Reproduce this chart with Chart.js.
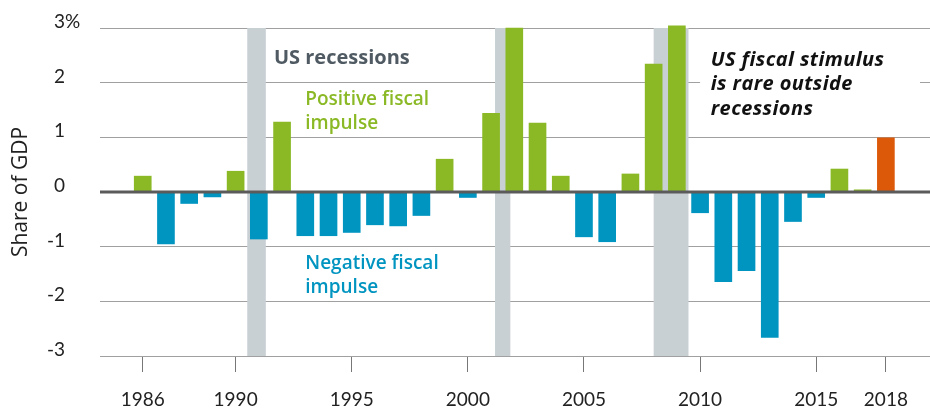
<!DOCTYPE html>
<html><head><meta charset="utf-8">
<script src="https://cdn.jsdelivr.net/npm/chart.js@4"></script>
<style>html,body{margin:0;padding:0;background:#fff}#wrap{width:930px;height:409px;position:relative}</style>
</head><body><div id="wrap"><canvas id="c"></canvas></div>
<script>
// ---- data ----
const years = [1986,1987,1988,1989,1990,1991,1992,1993,1994,1995,1996,1997,1998,1999,2000,2001,2002,2003,2004,2005,2006,2007,2008,2009,2010,2011,2012,2013,2014,2015,2016,2017,2018];
const fiscalImpulse = [0.29,-0.95,-0.21,-0.09,0.38,-0.86,1.28,-0.80,-0.80,-0.74,-0.60,-0.62,-0.43,0.60,-0.10,1.44,3.00,1.26,0.29,-0.82,-0.91,0.33,2.34,3.04,-0.38,-1.64,-1.44,-2.66,-0.54,-0.10,0.42,0.04,0.99];
const recessionStart = [1990.5, 2001.17, 2008.0];
const recessionEnd   = [1991.3, 2001.83, 2009.5];
const xTickValues = [1986,1990,1995,2000,2005,2010,2015,2018];
const yTickValues = [-3,-2,-1,0,1,2,3];
const highlightYear = 2018;

const GREEN = '#8ab925', BLUE = '#0094c0', ORANGE = '#dc5909';
const FONT = 'Lato';
const LABEL_FONT = '"Open Sans"';

const deco = {
  id: 'deco',
  beforeDatasetsDraw(chart) {
    const {ctx, scales: {x, y}} = chart;
    ctx.save();
    ctx.fillStyle = '#c9d0d4';
    const top = y.getPixelForValue(3), bot = y.getPixelForValue(-3);
    recessionStart.forEach((s, i) => {
      const x0 = x.getPixelForValue(s), x1 = x.getPixelForValue(recessionEnd[i]);
      ctx.fillRect(x0, top, x1 - x0, bot - top);
    });
    ctx.restore();
  },
  afterDatasetsDraw(chart) {
    const {ctx, chartArea: a, scales: {y}} = chart;
    const py = y.getPixelForValue(0);
    ctx.save();
    ctx.strokeStyle = '#5b5b5b';
    ctx.lineWidth = 3;
    ctx.beginPath(); ctx.moveTo(a.left, py); ctx.lineTo(a.right, py); ctx.stroke();
    ctx.restore();
  },
  afterDraw(chart) {
    const {ctx, scales: {x, y}} = chart;
    ctx.save();
    // % sign after the top tick label
    ctx.font = '19px ' + FONT;
    ctx.fillStyle = '#222';
    ctx.textAlign = 'left';
    ctx.textBaseline = 'middle';
    ctx.fillText('%', y.right - y.options.ticks.padding, y.getPixelForValue(3) + y.options.ticks.labelOffset);

    ctx.textBaseline = 'alphabetic';
    // recession label
    ctx.font = 'bold 20px ' + LABEL_FONT;
    ctx.fillStyle = '#4f5a62';
    ctx.fillText('US recessions', x.getPixelForValue(1991.65), y.getPixelForValue(2.35));
    // positive
    ctx.font = '600 19px ' + LABEL_FONT;
    ctx.fillStyle = GREEN;
    ctx.fillText('Positive fiscal', x.getPixelForValue(1993.0), y.getPixelForValue(1.59));
    ctx.fillText('impulse', x.getPixelForValue(1993.0), y.getPixelForValue(1.15));
    // negative
    ctx.fillStyle = BLUE;
    ctx.fillText('Negative fiscal', x.getPixelForValue(1993.0), y.getPixelForValue(-1.41));
    ctx.fillText('impulse', x.getPixelForValue(1993.0), y.getPixelForValue(-1.85));
    // white box + italic note
    const bx0 = x.getPixelForValue(2010.0), bx1 = x.getPixelForValue(2019.47);
    const by0 = y.getPixelForValue(2.7), by1 = y.getPixelForValue(1.25);
    ctx.fillStyle = '#fff';
    ctx.fillRect(bx0, by0, bx1 - bx0, by1 - by0);
    ctx.fillStyle = '#111';
    ctx.font = 'italic bold 20px ' + LABEL_FONT;
    ctx.letterSpacing = '0.4px';
    const nx = x.getPixelForValue(2010.46);
    ctx.fillText('US fiscal stimulus', nx, y.getPixelForValue(2.30));
    ctx.fillText('is rare outside', nx, y.getPixelForValue(1.86));
    ctx.fillText('recessions', nx, y.getPixelForValue(1.41));
    ctx.restore();
  }
};

new Chart(document.getElementById('c'), {
  type: 'bar',
  data: {
    datasets: [{
      data: years.map((yr, i) => ({x: yr, y: fiscalImpulse[i]})),
      backgroundColor: ctx => {
        const r = ctx.raw; if (!r) return GREEN;
        if (r.x === highlightYear) return ORANGE;
        return r.y >= 0 ? GREEN : BLUE;
      },
      borderWidth: 0,
      barThickness: 17,
      clip: false
    }]
  },
  options: {
    responsive: true,
    maintainAspectRatio: false,
    animation: false,
    devicePixelRatio: 1,
    layout: {padding: {top: 28, right: 0, left: 0, bottom: 0}},
    plugins: {legend: {display: false}, tooltip: {enabled: false}},
    scales: {
      x: {
        type: 'linear',
        min: 1984.16,
        max: 2019.9,
        offset: false,
        afterBuildTicks: s => { s.ticks = xTickValues.map(v => ({value: v})); },
        afterFit: s => { s.height = 53; },
        grid: {offset: false, drawOnChartArea: false, drawTicks: true, tickLength: 16, color: '#777', lineWidth: 1},
        border: {display: false},
        ticks: {
          autoSkip: false, maxRotation: 0, padding: 16,
          color: '#222', font: {family: FONT, size: 19},
          callback: v => String(v)
        }
      },
      y: {
        min: -3, max: 3,
        afterBuildTicks: s => { s.ticks = yTickValues.map(v => ({value: v})); },
        afterFit: s => { s.width = 100; s.paddingTop = 0; s.paddingBottom = 0; },
        grid: {drawTicks: false, color: '#a0a0a0', lineWidth: 1},
        border: {display: false},
        ticks: {
          padding: 35, labelOffset: -6,
          color: '#222', font: {family: FONT, size: 19},
          callback: v => String(v)
        },
        title: {display: true, text: 'Share of GDP', color: '#222', font: {family: LABEL_FONT, size: 21}, padding: {top: 8, bottom: 0}}
      }
    }
  },
  plugins: [deco]
});
</script>
</body></html>
